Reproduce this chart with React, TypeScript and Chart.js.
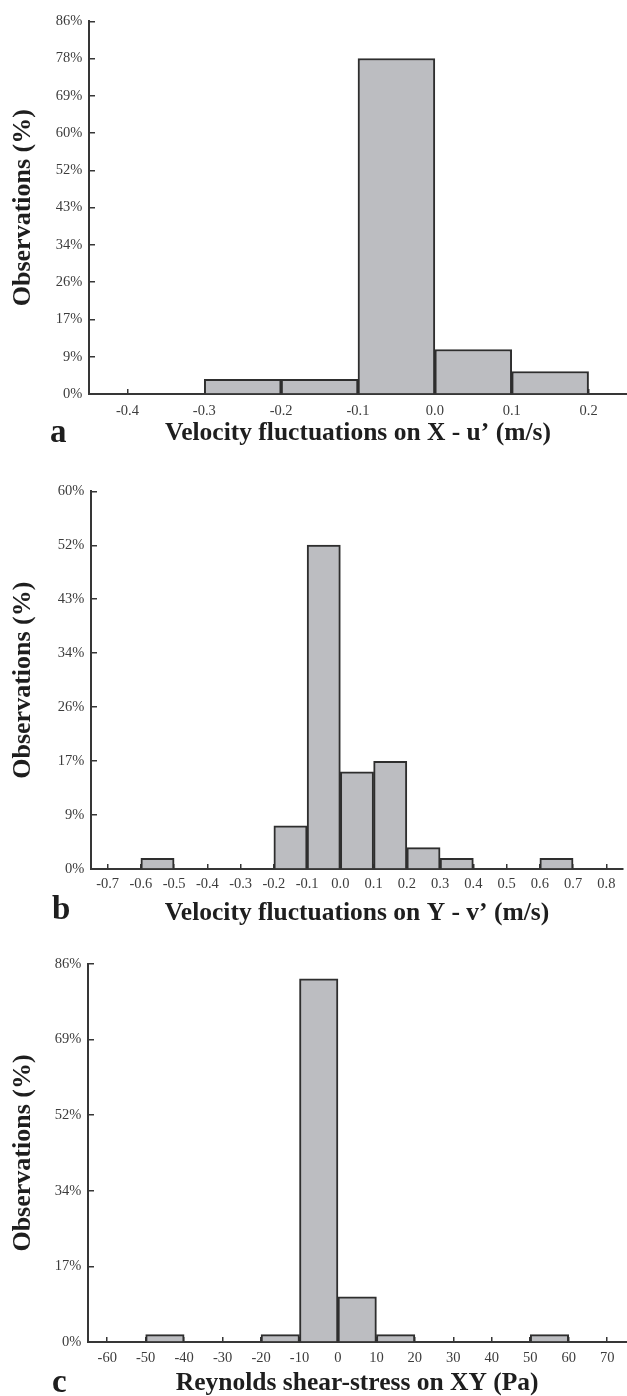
import React, { useEffect, useRef } from 'react';
import { Chart, registerables } from 'chart.js';

Chart.register(...registerables);

// ---------- Panel a : u' ----------
const binCentersA = [-0.25, -0.15, -0.05, 0.05, 0.15];
const percentA = [3.4, 3.4, 77.6, 10.3, 5.2];
const xTicksA = [-0.4, -0.3, -0.2, -0.1, 0.0, 0.1, 0.2];
const yTickLabelsA = ['0%', '9%', '17%', '26%', '34%', '43%', '52%', '60%', '69%', '78%', '86%'];
const yMaxA = 86.2;
const xTitleA = 'Velocity fluctuations on X - u\u2019 (m/s)';

// ---------- Panel b : v' ----------
const binCentersB = [-0.55, -0.15, -0.05, 0.05, 0.15, 0.25, 0.35, 0.65];
const percentB = [1.7, 6.9, 51.7, 15.5, 17.2, 3.4, 1.7, 1.7];
const xTicksB = [-0.7, -0.6, -0.5, -0.4, -0.3, -0.2, -0.1, 0.0, 0.1, 0.2, 0.3, 0.4, 0.5, 0.6, 0.7, 0.8];
const yTickLabelsB = ['0%', '9%', '17%', '26%', '34%', '43%', '52%', '60%'];
const yMaxB = 60.3;
const xTitleB = 'Velocity fluctuations on Y - v\u2019 (m/s)';

// ---------- Panel c : Reynolds shear stress ----------
const binCentersC = [-45, -15, -5, 5, 15, 55];
const percentC = [1.7, 1.7, 82.8, 10.3, 1.7, 1.7];
const xTicksC = [-60, -50, -40, -30, -20, -10, 0, 10, 20, 30, 40, 50, 60, 70];
const yTickLabelsC = ['0%', '17%', '34%', '52%', '69%', '86%'];
const yMaxC = 86.2;
const xTitleC = 'Reynolds shear-stress on XY (Pa)';

const yTitle = 'Observations (%)';

const SERIF = "'Liberation Serif', 'Times New Roman', Times, serif";
const AXIS_COLOR = '#363636';
const TICK_TEXT = '#3c3c3c';
const TITLE_COLOR = '#1e1e1e';
const BAR_FILL = '#bcbdc1';
const BAR_BORDER = '#2e2e2e';

const letterPlugin = {
  id: 'panelLetter',
  afterDraw(chart: any, _args: any, opts: any) {
    const ctx = chart.ctx;
    ctx.save();
    ctx.font = `bold ${opts.size}px ${SERIF}`;
    ctx.fillStyle = TITLE_COLOR;
    ctx.textBaseline = 'alphabetic';
    ctx.textAlign = 'left';
    ctx.fillText(opts.text, opts.x, opts.y);
    ctx.restore();
  },
};

type Panel = {
  top: number;
  height: number;
  padTop: number;
  yWidth: number;
  xHeight: number;
  centers: number[];
  values: number[];
  xTicks: number[];
  decimals: number;
  xMin: number;
  xMax: number;
  yLabels: string[];
  yMax: number;
  xTitle: string;
  xTickPad: number;
  titlePadBottom: number;
  letter: string;
  letterX: number;
  letterY: number;
  letterSize: number;
};

const panels: Panel[] = [
  {
    top: 0, height: 460, padTop: 16, yWidth: 89, xHeight: 66,
    centers: binCentersA, values: percentA, xTicks: xTicksA, decimals: 1,
    xMin: -0.45, xMax: 0.25, yLabels: yTickLabelsA, yMax: yMaxA,
    xTitle: xTitleA, xTickPad: 13, titlePadBottom: 14,
    letter: 'a', letterX: 50, letterY: 442, letterSize: 33,
  },
  {
    top: 470, height: 460, padTop: 21, yWidth: 91, xHeight: 61,
    centers: binCentersB, values: percentB, xTicks: xTicksB, decimals: 1,
    xMin: -0.75, xMax: 0.85, yLabels: yTickLabelsB, yMax: yMaxB,
    xTitle: xTitleB, xTickPad: 11.6, titlePadBottom: 4,
    letter: 'b', letterX: 52, letterY: 449, letterSize: 33,
  },
  {
    top: 930, height: 466, padTop: 34, yWidth: 88, xHeight: 54,
    centers: binCentersC, values: percentC, xTicks: xTicksC, decimals: 0,
    xMin: -65, xMax: 75, yLabels: yTickLabelsC, yMax: yMaxC,
    xTitle: xTitleC, xTickPad: 12.6, titlePadBottom: 0,
    letter: 'c', letterX: 52, letterY: 462, letterSize: 33,
  },
];

function Histogram({ p }: { p: Panel }) {
  const ref = useRef<HTMLCanvasElement | null>(null);

  useEffect(() => {
    if (!ref.current) return;
    const n = p.yLabels.length;
    const chart = new Chart(ref.current, {
      type: 'bar',
      data: {
        datasets: [
          {
            data: p.centers.map((c, i) => ({ x: c, y: p.values[i] })),
            backgroundColor: BAR_FILL,
            borderColor: BAR_BORDER,
            borderWidth: 2,
            borderSkipped: 'start',
            barPercentage: 1,
            categoryPercentage: 1,
          },
        ],
      },
      options: {
        animation: false,
        responsive: false,
        devicePixelRatio: 1,
        layout: { padding: { top: p.padTop, left: 0, right: 0, bottom: 0 } },
        plugins: {
          legend: { display: false },
          tooltip: { enabled: false },
          panelLetter: { text: p.letter, x: p.letterX, y: p.letterY, size: p.letterSize },
        } as any,
        scales: {
          x: {
            type: 'linear',
            min: p.xMin,
            max: p.xMax,
            offset: false,
            afterBuildTicks: (s: any) => {
              s.ticks = p.xTicks.map((v) => ({ value: v }));
            },
            afterFit: (s: any) => {
              s.height = p.xHeight;
            },
            ticks: {
              autoSkip: false,
              maxRotation: 0,
              padding: p.xTickPad,
              color: TICK_TEXT,
              font: { family: SERIF, size: 14.5 },
              callback: (v: any) => Number(v).toFixed(p.decimals),
            },
            grid: {
              drawOnChartArea: false,
              drawTicks: true,
              tickLength: -5,
              offset: false,
              color: AXIS_COLOR,
              lineWidth: 1.5,
            },
            border: { display: true, color: AXIS_COLOR, width: 2 },
            title: {
              display: true,
              text: p.xTitle,
              color: TITLE_COLOR,
              font: { family: SERIF, size: 25.5, weight: 'bold', lineHeight: 1 },
              padding: { top: 0, bottom: p.titlePadBottom },
            },
          },
          y: {
            type: 'linear',
            min: 0,
            max: p.yMax,
            afterBuildTicks: (s: any) => {
              s.ticks = p.yLabels.map((_, i) => ({ value: (i * p.yMax) / (n - 1) }));
            },
            afterFit: (s: any) => {
              s.width = p.yWidth;
            },
            ticks: {
              autoSkip: false,
              padding: 12.6,
              color: TICK_TEXT,
              font: { family: SERIF, size: 14.5 },
              callback: (_v: any, i: number) => p.yLabels[i],
            },
            grid: {
              drawOnChartArea: false,
              drawTicks: true,
              tickLength: -6,
              color: AXIS_COLOR,
              lineWidth: 1.5,
            },
            border: { display: true, color: AXIS_COLOR, width: 2 },
            title: {
              display: true,
              text: yTitle,
              color: TITLE_COLOR,
              font: { family: SERIF, size: 26, weight: 'bold' },
              padding: { top: 8, bottom: 0 },
            },
          },
        },
      } as any,
      plugins: [letterPlugin],
    });
    return () => chart.destroy();
  }, [p]);

  return (
    <canvas
      ref={ref}
      width={627}
      height={p.height}
      style={{ position: 'absolute', left: 0, top: p.top, width: 627, height: p.height, display: 'block' }}
    />
  );
}

export default function App() {
  return (
    <div style={{ position: 'absolute', left: 0, top: 0, width: 627, height: 1396, background: '#ffffff' }}>
      {panels.map((p, i) => (
        <Histogram key={i} p={p} />
      ))}
    </div>
  );
}
